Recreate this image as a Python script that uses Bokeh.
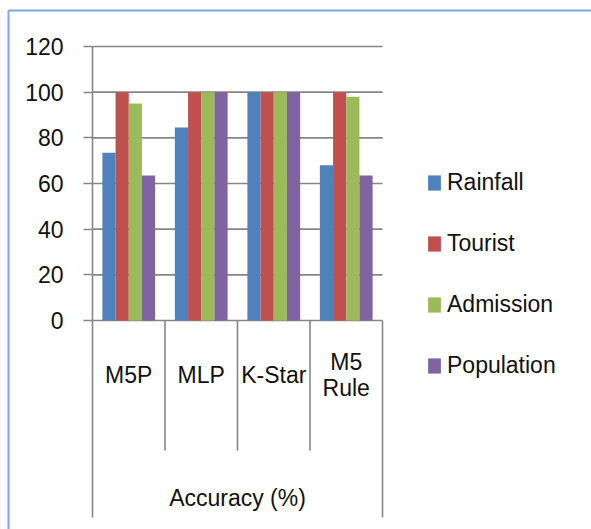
from bokeh.plotting import figure
from bokeh.models import Range1d, FixedTicker, Legend, LegendItem, ColumnDataSource
from bokeh.embed import file_html
from bokeh.resources import INLINE
from bokeh.core.properties import value

# ---- data ----
categories = ["M5P", "MLP", "K-Star", "M5\nRule"]
series = ["Rainfall", "Tourist", "Admission", "Population"]
rainfall = [73.5, 84.5, 100, 68]
tourist = [100, 100, 100, 100]
admission = [95, 100, 100, 98]
population = [63.5, 100, 100, 63.5]
y_ticks = [0, 20, 40, 60, 80, 100, 120]
group_title = "Accuracy (%)"
colors = ["#4F81BD", "#C0504D", "#9BBB59", "#8064A2"]

# ---- layout constants (pixels) ----
W, H = 591, 529
axis_px = 92          # x pixel of the value axis
zero_px = 320         # y pixel of value 0
top_px = 46           # y pixel of value 120
cat_px = 72.5         # width of one category
ppu = (zero_px - top_px) / 120.0


def dx(px):
    return (px - axis_px) / cat_px


def dy(px):
    return (zero_px - px) / ppu


FONT = "Liberation Sans"
GRAY = "#868686"
TXT = "#111111"
BLUE = "#7EA6E0"

p = figure(width=W, height=H, x_range=Range1d(dx(0), dx(W)), y_range=Range1d(dy(H), dy(0)),
           x_axis_location=None, y_axis_location="left", title=None,
           min_border_left=0, min_border_right=0, min_border_top=0, min_border_bottom=0,
           output_backend="svg", toolbar_location=None, tools="")
p.outline_line_color = None
p.xgrid.visible = False
p.ygrid.visible = False
p.background_fill_color = "white"
p.border_fill_color = "white"

n = len(categories)

# chart border (left and top edges)
p.segment(x0=[dx(8), dx(8)], x1=[dx(8), dx(W + 10)], y0=[dy(10), dy(10)], y1=[dy(H + 10), dy(10)],
          line_color=BLUE, line_width=2)

# gridlines
p.segment(x0=[0] * len(y_ticks), x1=[n] * len(y_ticks), y0=y_ticks, y1=y_ticks,
          line_color=GRAY, line_width=1.6)

# bars
bw = 1 / 5.5
all_vals = [rainfall, tourist, admission, population]
renderers = []
for k, (name, vals) in enumerate(zip(series, all_vals)):
    xs = [i + 0.5 + (k - 1.5) * bw for i in range(n)]
    src = ColumnDataSource(dict(x=xs, top=vals))
    r = p.vbar(x="x", top="top", bottom=0, width=bw, source=src,
               fill_color=colors[k], line_color=None)
    renderers.append(r)

# category dividers
p.segment(x0=list(range(1, n)), x1=list(range(1, n)), y0=[0] * (n - 1), y1=[dy(450)] * (n - 1),
          line_color=GRAY, line_width=1.6)
p.segment(x0=[n], x1=[n], y0=[0], y1=[dy(517)], line_color=GRAY, line_width=1.6)

# category labels
p.text(x=[i + 0.5 for i in range(n)], y=[dy(374)] * n, text=categories,
       text_align="center", text_baseline="middle", text_font=value(FONT),
       text_font_size="23px", text_line_height=1.0, text_color=TXT)
p.text(x=[n / 2], y=[dy(497)], text=[group_title],
       text_align="center", text_baseline="middle", text_font=value(FONT),
       text_font_size="23px", text_color=TXT)

# y axis, fixed at x = 0
ax = p.yaxis[0]
ax.fixed_location = 0
ax.ticker = FixedTicker(ticks=y_ticks)
ax.bounds = (dy(517), 120)
ax.axis_line_color = GRAY
ax.axis_line_width = 1.6
ax.major_tick_line_color = GRAY
ax.major_tick_line_width = 1.6
ax.major_tick_out = 9
ax.major_tick_in = 0
ax.minor_tick_line_color = None
ax.major_label_standoff = 20
ax.major_label_text_font = FONT
ax.major_label_text_font_size = "23px"
ax.major_label_text_color = TXT

# legend
legend = Legend(items=[LegendItem(label=s, renderers=[r]) for s, r in zip(series, renderers)],
                location=(426, 148), glyph_width=16, glyph_height=19, label_standoff=5,
                label_height=31, spacing=30, padding=0, margin=0,
                border_line_color=None, background_fill_alpha=0,
                label_text_font=FONT, label_text_font_size="23px", label_text_color=TXT)
p.add_layout(legend)

open("out.html", "w").write(file_html(p, INLINE))
